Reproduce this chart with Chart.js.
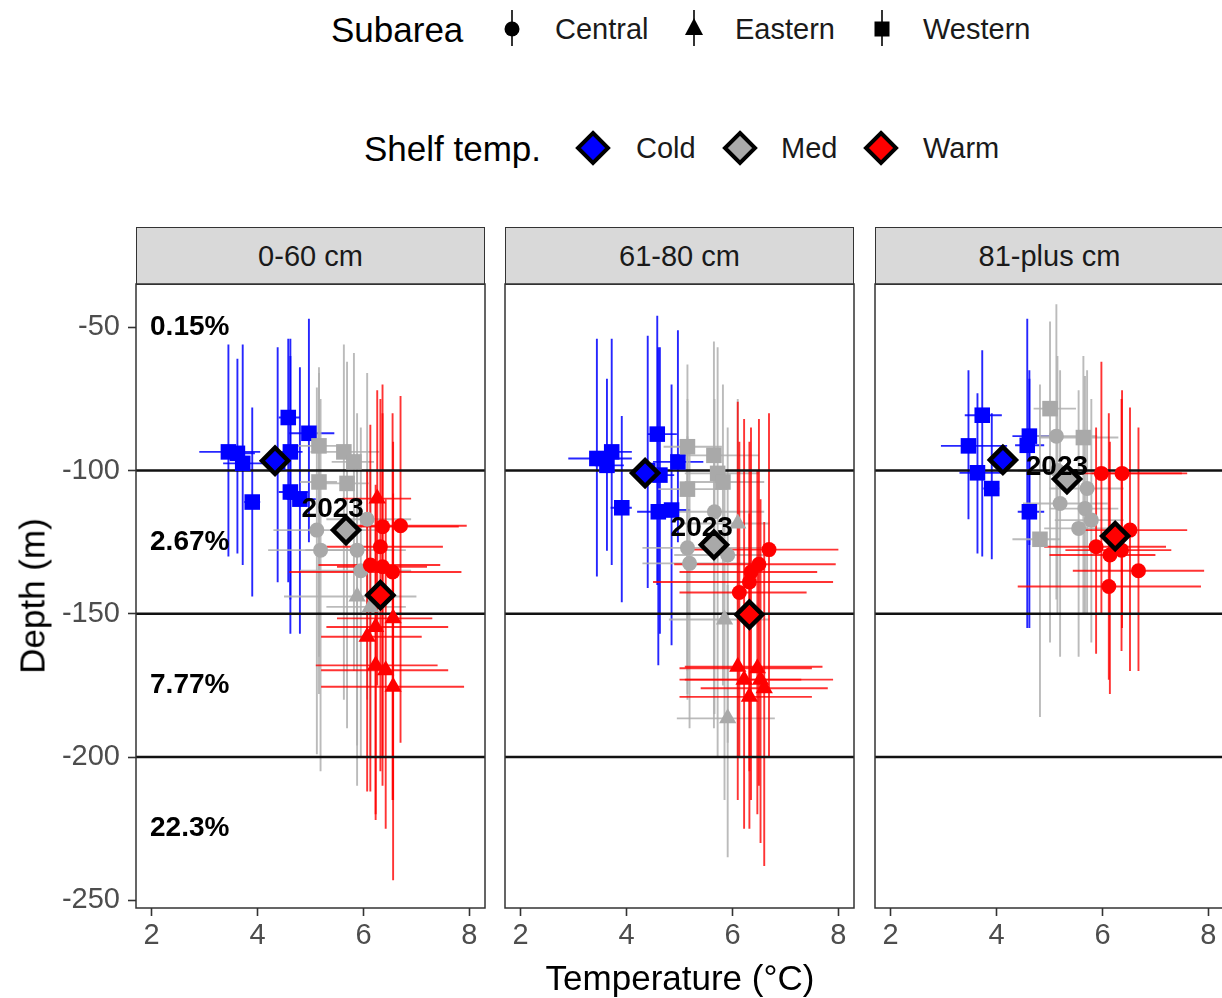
<!DOCTYPE html>
<html>
<head>
<meta charset="utf-8">
<script src="https://cdn.jsdelivr.net/npm/chart.js@4.4.1/dist/chart.umd.min.js"></script>
<style>
  body { margin: 0; background: #fff; font-family: 'Liberation Sans', Arial, sans-serif; }
  #page { position: relative; width: 1222px; height: 998px; overflow: hidden; background: #fff; }
  .t { position: absolute; white-space: nowrap; line-height: 1; transform: translateY(-50%); color: #000; }
  .title { font-size: 35px; }
  .lab { font-size: 29px; color: #1a1a1a; }
  .sym { position: absolute; }
  .strip { position: absolute; top: 227px; height: 58px; width: 349px; box-sizing: border-box;
           background: #d9d9d9; border: 1.5px solid #333; display: flex; align-items: center;
           justify-content: center; font-size: 29px; color: #1a1a1a; }
  canvas { position: absolute; top: 280px; }
</style>
</head>
<body>
<div id="page">
  <!-- legend: subarea -->
  <div class="t title" style="left:331px; top:29px;">Subarea</div>
  <svg class="sym" style="left:502px; top:8px;" width="20" height="42">
    <line x1="10" y1="2" x2="10" y2="38" stroke="#000" stroke-width="1.6"/>
    <circle cx="10" cy="21" r="7.5" fill="#000"/>
  </svg>
  <div class="t lab" style="left:555px; top:29px;">Central</div>
  <svg class="sym" style="left:684px; top:8px;" width="20" height="42">
    <line x1="10" y1="2" x2="10" y2="38" stroke="#000" stroke-width="1.6"/>
    <polygon points="10,10 19,27 1,27" fill="#000"/>
  </svg>
  <div class="t lab" style="left:735px; top:29px;">Eastern</div>
  <svg class="sym" style="left:872px; top:8px;" width="20" height="42">
    <line x1="10" y1="2" x2="10" y2="38" stroke="#000" stroke-width="1.6"/>
    <rect x="2.5" y="13.5" width="15" height="15" fill="#000"/>
  </svg>
  <div class="t lab" style="left:923px; top:29px;">Western</div>

  <!-- legend: shelf temp -->
  <div class="t title" style="left:364px; top:148px;">Shelf temp.</div>
  <svg class="sym" style="left:575px; top:130px;" width="36" height="36">
    <polygon points="18,3 33,18 18,33 3,18" fill="#0000ff" stroke="#000" stroke-width="4"/>
  </svg>
  <div class="t lab" style="left:636px; top:148px;">Cold</div>
  <svg class="sym" style="left:722px; top:130px;" width="36" height="36">
    <polygon points="18,3 33,18 18,33 3,18" fill="#a9a9a9" stroke="#000" stroke-width="4"/>
  </svg>
  <div class="t lab" style="left:781px; top:148px;">Med</div>
  <svg class="sym" style="left:863px; top:130px;" width="36" height="36">
    <polygon points="18,3 33,18 18,33 3,18" fill="#ff0000" stroke="#000" stroke-width="4"/>
  </svg>
  <div class="t lab" style="left:923px; top:148px;">Warm</div>

  <div class="strip" style="left:136px;" id="s0"></div>
  <div class="strip" style="left:505px;" id="s1"></div>
  <div class="strip" style="left:875px;" id="s2"></div>

  <canvas id="c0" width="489" height="678" style="left:0px;"></canvas>
  <canvas id="c1" width="357" height="678" style="left:501px;"></canvas>
  <canvas id="c2" width="357" height="678" style="left:871px;"></canvas>

  <div class="t title" style="left:32px; top:596px; transform: translate(-50%,-50%) rotate(-90deg);">Depth (m)</div>
  <div class="t title" style="left:680px; top:977px; transform: translate(-50%,-50%);">Temperature (°C)</div>
</div>

<script>
// facets and axes
const panels = ['0-60 cm', '61-80 cm', '81-plus cm'];
const xTicks = [2, 4, 6, 8];
const yTicks = [-50, -100, -150, -200, -250];
const depthBreaks = [-100, -150, -200];
const pctLabels = ['0.15%', '2.67%', '7.77%', '22.3%'];
const pctDepths = [-50, -125, -175, -225];
const tempClasses = ['Cold', 'Med', 'Warm'];
const subareas = ['C', 'E', 'W']; // Central, Eastern, Western

// rows: [subarea, temp, depth, tempLo, tempHi, depthLo, depthHi]
const cold_0_60 = [
  ['W', 3.45, -93.5, 2.9, 4.05, -130, -56],
  ['W', 3.62, -94, 3.35, 3.95, -129, -61],
  ['W', 3.72, -97.5, 3.35, 4.1, -133, -56],
  ['W', 3.9, -111, 3.75, 4.05, -144, -78],
  ['W', 4.58, -81.5, 4.4, 4.8, -139, -54],
  ['W', 4.62, -93.5, 4.45, 4.85, -145, -54],
  ['W', 4.97, -87, 4.6, 5.45, -125, -47],
  ['W', 4.62, -107.5, 4.4, 4.95, -157, -60],
  ['W', 4.8, -110, 4.55, 5.1, -157, -64],
  ['W', 4.38, -97, 4.2, 4.6, -139, -57]
];
const med_0_60 = [
  ['W', 5.16, -91.4, 4.75, 5.6, -165, -64],
  ['W', 5.63, -93.5, 5.0, 6.3, -180, -56],
  ['W', 5.82, -97, 5.4, 6.2, -170, -59],
  ['W', 5.16, -104, 4.8, 5.5, -178, -66],
  ['W', 5.69, -104.5, 5.2, 6.1, -190, -62],
  ['C', 5.12, -120.8, 4.3, 6.3, -199, -71],
  ['C', 5.19, -127.8, 4.2, 6.8, -205, -75],
  ['C', 5.88, -127.8, 4.9, 6.6, -196, -80],
  ['C', 6.07, -117, 5.3, 6.9, -180, -66],
  ['C', 5.95, -135, 4.8, 6.9, -200, -85],
  ['E', 5.88, -144, 4.5, 7.0, -210, -95],
  ['E', 6.13, -147.6, 5.3, 6.8, -200, -100]
];
const warm_0_60 = [
  ['E', 6.26, -109.8, 5.6, 6.9, -175, -72],
  ['C', 6.36, -119.6, 5.5, 7.8, -200, -70],
  ['C', 6.7, -119.3, 5.5, 7.95, -195, -74],
  ['C', 6.32, -126.6, 5.3, 7.5, -205, -75],
  ['C', 6.13, -133, 5.15, 7.45, -212, -84],
  ['C', 6.36, -133.6, 5.5, 7.2, -210, -80],
  ['C', 6.55, -135.4, 4.6, 7.85, -215, -80],
  ['E', 6.23, -154.6, 5.3, 7.6, -220, -105],
  ['E', 6.07, -158, 5.2, 7.1, -212, -100],
  ['E', 6.56, -151.6, 5.5, 7.3, -215, -90],
  ['E', 6.23, -168, 5.1, 7.4, -222, -110],
  ['E', 6.42, -169.7, 5.2, 7.6, -225, -110],
  ['E', 6.56, -175.5, 5.2, 7.9, -243, -108]
];

const cold_61_80 = [
  ['W', 3.44, -95.8, 2.9, 4.1, -137, -54],
  ['W', 3.72, -93.5, 3.4, 4.1, -133, -54],
  ['W', 3.63, -98.2, 3.4, 3.95, -128, -68],
  ['W', 3.91, -113, 3.7, 4.1, -146, -81],
  ['W', 4.58, -87.3, 4.4, 4.95, -140, -46],
  ['W', 4.63, -101.6, 4.45, 4.9, -157, -57],
  ['W', 4.6, -114.4, 4.2, 4.95, -168, -57],
  ['W', 4.85, -113.8, 4.6, 5.2, -161, -70],
  ['W', 4.97, -97, 4.5, 5.45, -125, -51],
  ['W', 4.4, -100, 4.2, 4.6, -141, -53]
];
const med_61_80 = [
  ['W', 5.15, -91.7, 4.7, 5.8, -178, -63],
  ['W', 5.65, -94.7, 5.0, 6.5, -190, -55],
  ['W', 5.72, -101, 5.1, 6.5, -200, -57],
  ['W', 5.82, -104, 5.1, 6.6, -175, -70],
  ['W', 5.15, -106.5, 4.6, 5.9, -170, -75],
  ['C', 5.66, -114.4, 4.6, 6.6, -185, -75],
  ['C', 5.15, -127, 4.3, 6.6, -180, -88],
  ['C', 5.19, -132.4, 4.3, 6.5, -190, -90],
  ['C', 5.91, -129.5, 4.9, 6.6, -195, -85],
  ['E', 6.1, -118.5, 5.0, 6.7, -200, -75],
  ['E', 5.85, -152, 4.8, 6.7, -215, -100],
  ['E', 5.91, -186.5, 4.95, 6.8, -235, -140]
];
const warm_61_80 = [
  ['C', 6.69, -127.6, 5.1, 8.0, -200, -80],
  ['C', 6.5, -132.7, 4.9, 7.95, -210, -82],
  ['C', 6.35, -135.4, 5.0, 7.6, -215, -85],
  ['C', 6.32, -138.9, 4.5, 7.9, -205, -90],
  ['C', 6.13, -142.6, 5.0, 7.4, -200, -90],
  ['E', 6.1, -168.5, 5.1, 7.7, -215, -76],
  ['E', 6.47, -169, 5.0, 7.5, -220, -100],
  ['E', 6.22, -173, 5.0, 7.9, -225, -82],
  ['E', 6.53, -173, 5.1, 7.3, -230, -110],
  ['E', 6.32, -179, 5.0, 7.5, -225, -115],
  ['E', 6.6, -176, 5.4, 7.8, -238, -118]
];

const cold_81_plus = [
  ['W', 3.73, -80.7, 3.4, 4.1, -130, -58],
  ['W', 3.47, -91.4, 2.95, 4.2, -117, -65],
  ['W', 3.64, -100.8, 3.3, 4.1, -129, -73],
  ['W', 3.91, -106.3, 3.75, 4.05, -131, -80],
  ['W', 4.62, -88, 4.3, 5.0, -126, -65],
  ['W', 4.58, -91.2, 4.35, 4.9, -155, -47],
  ['W', 4.62, -114.4, 4.4, 4.9, -155, -68]
];
const med_81_plus = [
  ['W', 5.01, -78.4, 4.7, 5.5, -160, -48],
  ['W', 5.64, -88.5, 4.8, 6.3, -150, -60],
  ['W', 4.82, -124, 4.3, 5.2, -186, -70],
  ['C', 5.13, -88, 4.5, 5.9, -145, -42],
  ['C', 5.2, -111.5, 4.5, 6.1, -165, -65],
  ['C', 5.67, -113.3, 5.0, 6.3, -150, -67],
  ['C', 5.79, -117.3, 5.1, 6.4, -160, -75],
  ['C', 5.55, -120.2, 4.9, 6.2, -165, -72],
  ['C', 5.71, -106.3, 5.0, 6.4, -150, -65],
  ['C', 5.15, -100, 4.4, 6.0, -150, -60]
];
const warm_81_plus = [
  ['C', 5.98, -101, 5.3, 7.5, -150, -62],
  ['C', 6.37, -101, 5.8, 7.6, -155, -72],
  ['C', 5.88, -126.6, 4.9, 7.2, -164, -85],
  ['C', 6.14, -129.5, 5.0, 7.0, -178, -90],
  ['C', 6.36, -127.8, 5.3, 7.3, -163, -75],
  ['C', 6.52, -120.8, 5.5, 7.6, -170, -78],
  ['C', 6.68, -135, 5.44, 7.92, -170, -85],
  ['C', 6.12, -140.5, 4.4, 7.86, -173, -80]
];

// 2023 means per shelf temperature class (Cold, Med, Warm)
const meanTemp_0_60 = [4.33, 5.67, 6.32];
const meanDepth_0_60 = [-96.6, -120.8, -143.5];
const meanTemp_61_80 = [4.35, 5.65, 6.32];
const meanDepth_61_80 = [-100.9, -125.9, -150.3];
const meanTemp_81_plus = [4.12, 5.33, 6.24];
const meanDepth_81_plus = [-96.3, -103, -122.9];

// "2023" text position per panel
const label2023Temp = [5.42, 5.42, 5.14];
const label2023Depth = [-113.5, -120.1, -98.8];

const FONT = "'Liberation Sans', Arial, sans-serif";
const fill = { Cold: '#0000ff', Med: '#a9a9a9', Warm: '#ff0000' };
const errCol = { Cold: 'rgba(0,0,255,0.85)', Med: 'rgba(175,175,175,0.85)', Warm: 'rgba(255,0,0,0.8)' };
const shape = { C: ['circle', 7.5], E: ['triangle', 10], W: ['rect', 11] };

const facetDecor = {
  id: 'facetDecor',
  beforeDatasetsDraw(chart, args, opts) {
    const { ctx, chartArea: a, scales: { x, y } } = chart;
    ctx.save();
    ctx.beginPath();
    ctx.rect(a.left, a.top, a.right - a.left, a.bottom - a.top);
    ctx.clip();
    // error bars
    ctx.lineWidth = 1.9;
    chart.data.datasets.forEach(ds => {
      if (!ds.errColor) return;
      ctx.strokeStyle = ds.errColor;
      ds.data.forEach(p => {
        const px = x.getPixelForValue(p.x), py = y.getPixelForValue(p.y);
        ctx.beginPath();
        ctx.moveTo(x.getPixelForValue(p.xMin), py);
        ctx.lineTo(x.getPixelForValue(p.xMax), py);
        ctx.moveTo(px, y.getPixelForValue(p.yMin));
        ctx.lineTo(px, y.getPixelForValue(p.yMax));
        ctx.stroke();
      });
    });
    // depth breaks
    ctx.strokeStyle = '#111';
    ctx.lineWidth = 2.4;
    depthBreaks.forEach(d => {
      const py = y.getPixelForValue(d);
      ctx.beginPath();
      ctx.moveTo(a.left, py);
      ctx.lineTo(a.right, py);
      ctx.stroke();
    });
    ctx.restore();
  },
  afterDatasetsDraw(chart, args, opts) {
    const { ctx, chartArea: a, scales: { x, y } } = chart;
    ctx.save();
    ctx.fillStyle = '#000';
    ctx.font = 'bold 28px ' + FONT;
    ctx.textBaseline = 'middle';
    if (opts.pct) {
      ctx.textAlign = 'left';
      pctLabels.forEach((t, i) => ctx.fillText(t, x.getPixelForValue(1.97), y.getPixelForValue(pctDepths[i])));
    }
    ctx.textAlign = 'center';
    ctx.fillText('2023', x.getPixelForValue(opts.labelX), y.getPixelForValue(opts.labelY));
    // panel border
    ctx.strokeStyle = '#333';
    ctx.lineWidth = 1.5;
    ctx.strokeRect(a.left, a.top, a.right - a.left, a.bottom - a.top);
    ctx.restore();
  }
};

function buildDatasets(groups, meanT, meanD) {
  const sets = [];
  tempClasses.forEach((tc, ti) => {
    subareas.forEach(sa => {
      const rows = groups[ti].filter(r => r[0] === sa);
      if (!rows.length) return;
      sets.push({
        data: rows.map(r => ({ x: r[1], y: r[2], xMin: r[3], xMax: r[4], yMin: r[5], yMax: r[6] })),
        pointStyle: shape[sa][0],
        pointRadius: shape[sa][1],
        backgroundColor: fill[tc],
        borderWidth: 0,
        errColor: errCol[tc],
        order: 3 - ti
      });
    });
  });
  sets.push({
    data: meanT.map((t, i) => ({ x: t, y: meanD[i] })),
    pointStyle: 'rectRot',
    pointRadius: 13,
    backgroundColor: tempClasses.map(tc => fill[tc]),
    borderColor: '#000',
    borderWidth: 4.5,
    order: 0
  });
  return sets;
}

function makePanel(idx, groups, meanT, meanD) {
  document.getElementById('s' + idx).textContent = panels[idx];
  const first = idx === 0;
  const tickStyle = { color: '#4d4d4d', font: { size: 29, family: FONT } };
  const tickGrid = { display: true, drawOnChartArea: false, drawTicks: true, tickLength: 8,
                     tickWidth: 1.6, tickColor: '#333' };
  new Chart(document.getElementById('c' + idx), {
    type: 'scatter',
    data: { datasets: buildDatasets(groups, meanT, meanD) },
    options: {
      responsive: false,
      animation: false,
      layout: { autoPadding: false, padding: { top: 4, right: 4, bottom: 0, left: first ? 0 : 4 } },
      plugins: {
        legend: { display: false },
        tooltip: { enabled: false },
        facetDecor: { pct: first, labelX: label2023Temp[idx], labelY: label2023Depth[idx] }
      },
      scales: {
        x: {
          type: 'linear', min: 1.705, max: 8.295,
          afterBuildTicks: s => { s.ticks = xTicks.map(v => ({ value: v })); },
          afterFit: s => { s.height = 50; s.paddingLeft = 0; s.paddingRight = 0; },
          grid: tickGrid, border: { display: false },
          ticks: Object.assign({ padding: 3, maxRotation: 0 }, tickStyle)
        },
        y: {
          type: 'linear', min: -252.7, max: -34.9, display: first,
          afterBuildTicks: s => { s.ticks = yTicks.map(v => ({ value: v })); },
          afterFit: s => { if (first) s.width = 136; s.paddingTop = 0; s.paddingBottom = 0; },
          grid: tickGrid, border: { display: false },
          ticks: Object.assign({ padding: 8, color: '#4d4d4d' }, tickStyle)
        }
      }
    },
    plugins: [facetDecor]
  });
}

makePanel(0, [cold_0_60, med_0_60, warm_0_60], meanTemp_0_60, meanDepth_0_60);
makePanel(1, [cold_61_80, med_61_80, warm_61_80], meanTemp_61_80, meanDepth_61_80);
makePanel(2, [cold_81_plus, med_81_plus, warm_81_plus], meanTemp_81_plus, meanDepth_81_plus);
</script>
</body>
</html>
